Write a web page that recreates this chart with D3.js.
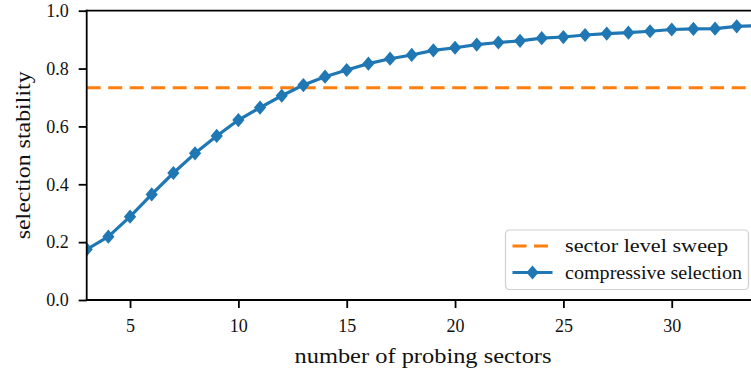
<!DOCTYPE html>
<html>
<head>
<meta charset="utf-8">
<script src="https://cdn.jsdelivr.net/npm/d3@7/dist/d3.min.js"></script>
<style>
  body { margin: 0; background: #fff; }
  text { font-family: "Liberation Serif", "DejaVu Serif", serif; fill: #111; }
</style>
</head>
<body>
<div id="chart"></div>
<script>
// Data
var probingSectors = [3, 4, 5, 6, 7, 8, 9, 10, 11, 12, 13, 14, 15, 16, 17, 18,
    19, 20, 21, 22, 23, 24, 25, 26, 27, 28, 29, 30, 31, 32, 33, 34];
var compressiveSelection = [0.175, 0.219, 0.288, 0.365, 0.439, 0.507, 0.567, 0.622,
    0.665, 0.706, 0.743, 0.772, 0.795, 0.817, 0.834, 0.847, 0.863, 0.872, 0.883,
    0.890, 0.896, 0.905, 0.909, 0.916, 0.921, 0.924, 0.929, 0.935, 0.937, 0.938,
    0.946, 0.948];
var sectorLevelSweep = 0.734;
var xTicks = [5, 10, 15, 20, 25, 30];
var yTicks = [0.0, 0.2, 0.4, 0.6, 0.8, 1.0];
var legendLabels = ['sector level sweep', 'compressive selection'];

// Svg size and plot box (the right edge of the axes falls past the picture)
var svgWidth = 751;
var svgHeight = 376;
var plot = { left: 86.7, top: 10.7, right: 758.4, bottom: 300 };

var blue = '#1f77b4';
var orange = '#ff7f0e';

var svg = d3.select('#chart')
    .append('svg')
    .attr('width', svgWidth)
    .attr('height', svgHeight);

var xScale = d3.scaleLinear()
    .domain([3, 34])
    .range([plot.left, plot.right]);

var yScale = d3.scaleLinear()
    .domain([0, 1])
    .range([plot.bottom, plot.top]);

svg.append('clipPath')
    .attr('id', 'plotClip')
    .append('rect')
    .attr('x', plot.left)
    .attr('y', plot.top - 8)
    .attr('width', plot.right - plot.left)
    .attr('height', plot.bottom - plot.top + 8);

var plotGroup = svg.append('g').attr('clip-path', 'url(#plotClip)');

// Orange dashed reference line
plotGroup.append('line')
    .attr('x1', plot.left)
    .attr('x2', plot.right)
    .attr('y1', yScale(sectorLevelSweep))
    .attr('y2', yScale(sectorLevelSweep))
    .attr('stroke', orange)
    .attr('stroke-width', 3)
    .attr('stroke-dasharray', '14,7.5');

// Blue line with diamond markers
var line = d3.line()
    .x((d, i) => xScale(probingSectors[i]))
    .y(d => yScale(d));

plotGroup.append('path')
    .datum(compressiveSelection)
    .attr('d', line)
    .attr('fill', 'none')
    .attr('stroke', blue)
    .attr('stroke-width', 3.2)
    .attr('stroke-linejoin', 'round');

// diamond a little taller than wide
var diamond = 'M0,-7.1L6.1,0L0,7.1L-6.1,0Z';

plotGroup.selectAll('.marker')
    .data(compressiveSelection)
    .enter()
    .append('path')
    .attr('class', 'marker')
    .attr('d', diamond)
    .attr('transform', (d, i) => `translate(${xScale(probingSectors[i])},${yScale(d)})`)
    .attr('fill', blue);

// Axes
var xAxis = d3.axisBottom(xScale)
    .tickValues(xTicks)
    .tickSize(8)
    .tickPadding(11)
    .tickFormat(d3.format('d'));

var yAxis = d3.axisLeft(yScale)
    .tickValues(yTicks)
    .tickSize(8)
    .tickPadding(10)
    .tickFormat(d3.format('.1f'));

var gx = svg.append('g')
    .attr('transform', `translate(0, ${plot.bottom})`)
    .call(xAxis);

var gy = svg.append('g')
    .attr('transform', `translate(${plot.left}, 0)`)
    .call(yAxis);

[gx, gy].forEach(function(g) {
    g.select('.domain').remove();
    g.selectAll('.tick line').attr('stroke', '#000').attr('stroke-width', 1.8);
    g.selectAll('.tick text')
        .attr('fill', '#111')
        .style('font-size', '18px')
        .style('font-family', '"Liberation Serif", serif');
});

// Spines (left, bottom, top)
[[plot.left, plot.top, plot.left, plot.bottom],
 [plot.left, plot.bottom, plot.right, plot.bottom],
 [plot.left, plot.top, plot.right, plot.top]].forEach(function(s) {
    svg.append('line')
        .attr('x1', s[0]).attr('y1', s[1])
        .attr('x2', s[2]).attr('y2', s[3])
        .attr('stroke', '#000')
        .attr('stroke-width', 1.8)
        .attr('stroke-linecap', 'square');
});

// Axis labels
svg.append('text')
    .attr('x', 294.5)
    .attr('y', 363)
    .attr('textLength', 257)
    .attr('lengthAdjust', 'spacingAndGlyphs')
    .style('font-size', '21px')
    .text('number of probing sectors');

svg.append('text')
    .attr('transform', `translate(29.5, ${(plot.top + plot.bottom) / 2}) rotate(-90)`)
    .attr('x', -84)
    .attr('textLength', 168)
    .attr('lengthAdjust', 'spacingAndGlyphs')
    .style('font-size', '21px')
    .text('selection stability');

// Legend
var legend = svg.append('g').attr('transform', 'translate(505.5, 230)');

legend.append('rect')
    .attr('width', 243)
    .attr('height', 59.5)
    .attr('rx', 4)
    .attr('fill', '#fff')
    .attr('fill-opacity', 0.8)
    .attr('stroke', '#d0d0d0')
    .attr('stroke-width', 1.2);

legend.append('line')
    .attr('x1', 7).attr('x2', 47)
    .attr('y1', 16).attr('y2', 16)
    .attr('stroke', orange)
    .attr('stroke-width', 3)
    .attr('stroke-dasharray', '14,7.5');

legend.append('line')
    .attr('x1', 7).attr('x2', 47)
    .attr('y1', 42.5).attr('y2', 42.5)
    .attr('stroke', blue)
    .attr('stroke-width', 3.2);

legend.append('path')
    .attr('d', diamond)
    .attr('transform', 'translate(27, 42.5)')
    .attr('fill', blue);

var legendWidths = [163, 177];

legend.selectAll('.legend-label')
    .data(legendLabels)
    .enter()
    .append('text')
    .attr('class', 'legend-label')
    .attr('x', 59.5)
    .attr('y', (d, i) => 16 + i * 26.5)
    .attr('dy', '0.33em')
    .attr('textLength', (d, i) => legendWidths[i])
    .attr('lengthAdjust', 'spacingAndGlyphs')
    .style('font-size', '18.5px')
    .text(d => d);
</script>
</body>
</html>
